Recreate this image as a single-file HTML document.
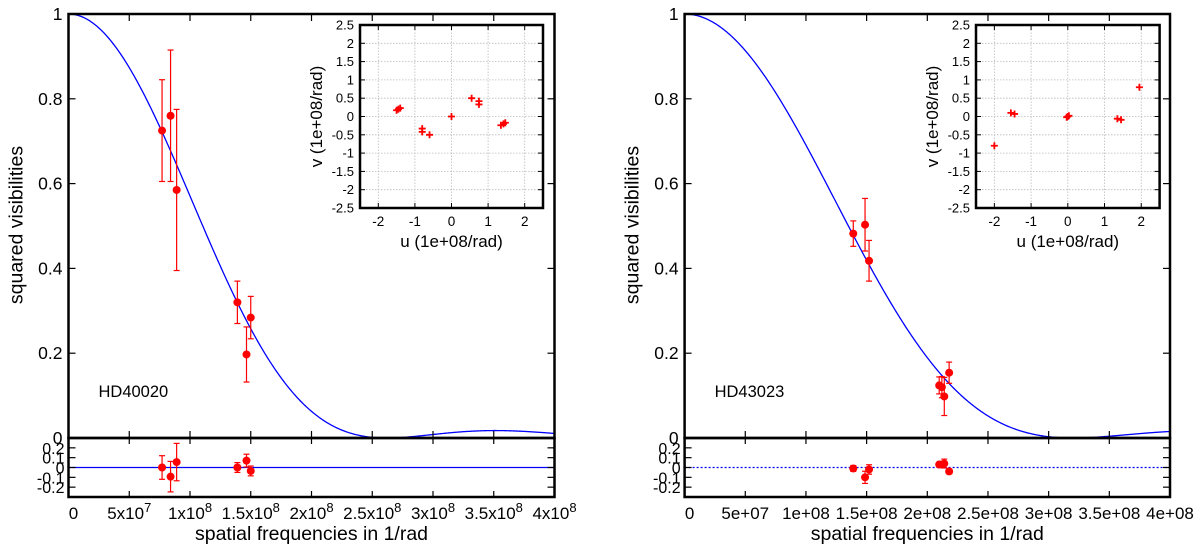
<!DOCTYPE html>
<html><head><meta charset="utf-8"><style>
html,body{margin:0;padding:0;background:#fff}
svg{display:block;font-family:"Liberation Sans",sans-serif}
</style></head><body>
<svg id="chart" width="1200" height="547" viewBox="0 0 1200 547" xmlns="http://www.w3.org/2000/svg"></svg>
<script>
// ---- data ----
const leftFreq = [7.7e7, 8.4e7, 8.9e7, 1.39e8, 1.465e8, 1.5e8];
const leftV2 = [0.725, 0.76, 0.585, 0.32, 0.197, 0.284];
const leftErr = [0.12, 0.155, 0.19, 0.05, 0.065, 0.05];
const leftRes = [0.0, -0.093, 0.055, 0.0, 0.07, -0.035];
const leftZero = 2.62e8;
const leftU = [-1.5, -1.45, -1.4, -0.8, -0.8, -0.6, 0, 0.55, 0.75, 0.75, 1.35, 1.42, 1.47];
const leftVv = [0.17, 0.2, 0.23, -0.33, -0.42, -0.5, 0, 0.5, 0.42, 0.33, -0.24, -0.2, -0.17];

const rightFreq = [1.39e8, 1.487e8, 1.52e8, 2.098e8, 2.12e8, 2.14e8, 2.18e8];
const rightV2 = [0.482, 0.503, 0.418, 0.124, 0.12, 0.098, 0.154];
const rightErr = [0.03, 0.062, 0.048, 0.02, 0.025, 0.045, 0.025];
const rightRes = [-0.01, -0.1, -0.02, 0.03, 0.03, 0.04, -0.04];
const rightZero = 3.2e8;
const rightU = [-2, -1.55, -1.45, 0, 0.03, -0.03, 1.35, 1.45, 1.95];
const rightVv = [-0.8, 0.1, 0.07, 0, 0.02, -0.02, -0.06, -0.09, 0.8];

const mainYTicks = [0, 0.2, 0.4, 0.6, 0.8, 1];
const mainYLabels = ["0", "0.2", "0.4", "0.6", "0.8", "1"];
const resTicks = [0.2, 0.1, 0, -0.1, -0.2];
const resLabels = ["0.2", "0.1", "0", "-0.1", "-0.2"];
const xTicks = [0, 5e7, 1e8, 1.5e8, 2e8, 2.5e8, 3e8, 3.5e8, 4e8];
const leftXLabels = [["0",""],["5x10","7"],["1x10","8"],["1.5x10","8"],["2x10","8"],["2.5x10","8"],["3x10","8"],["3.5x10","8"],["4x10","8"]];
const rightXLabels = ["0","5e+07","1e+08","1.5e+08","2e+08","2.5e+08","3e+08","3.5e+08","4e+08"];
const insetVTicks = [-2.5,-2,-1.5,-1,-0.5,0,0.5,1,1.5,2,2.5];
const insetUTicks = [-2,-1,0,1,2];

const NS = "http://www.w3.org/2000/svg";
const svg = document.getElementById('chart');
function mk(tag, attrs, parent, txt){
  const e = document.createElementNS(NS, tag);
  for (const k in attrs) e.setAttribute(k, attrs[k]);
  if (txt !== undefined) e.textContent = txt;
  (parent || svg).appendChild(e);
  return e;
}
function J1(x){
  let s=0, term=x/2; s=term;
  for(let k=1;k<40;k++){ term *= -(x*x/4)/(k*(k+1)); s+=term; }
  return s;
}
function panel(o){
  const g = mk('g',{});
  
  
  const X0=o.x0, X1=o.x1, Y1=14, Y0=438, R0=438, R1=497, RZ=467.5;
  const sx = f => X0 + f/4e8*(X1-X0);
  const sy = v => Y0 - v*(Y0-Y1);
  const sr = r => RZ - r/0.3*(RZ-R0);
  const k = 3.8317/o.zero;
  let d="";
  for(let i=0;i<=500;i++){
    const f=i/500*4e8, x=k*f; const v = x===0?1:Math.pow(2*J1(x)/x,2);
    d += (i?"L":"M")+sx(f).toFixed(2)+","+sy(v).toFixed(2);
  }
  const c = mk('path',{d:d,fill:'none',stroke:'#0000ff','stroke-width':1.3},g);
   
  const zl = mk('line',{x1:X0,x2:X1,y1:RZ,y2:RZ,stroke:'#0000ff','stroke-width':1.3,'stroke-dasharray':o.dotted?'2,2':'none'},g);
   
  const fr = mk('rect',{x:X0,y:Y1,width:X1-X0,height:Y0-Y1,fill:'none',stroke:'#000','stroke-width':2.5},g);
   
  const rf = mk('rect',{x:X0,y:R0,width:X1-X0,height:R1-R0,fill:'none',stroke:'#000','stroke-width':2.5},g);
   
  mainYTicks.forEach((t,i)=>{
    const y=sy(t);
    mk('line',{x1:X0,x2:X0+7,y1:y,y2:y,stroke:'#000','stroke-width':1.2},g);
    mk('line',{x1:X1,x2:X1-7,y1:y,y2:y,stroke:'#000','stroke-width':1.2},g);
    const l=mk('text',{x:X0-6,y:y+6,'text-anchor':'end','font-size':17.5},g,mainYLabels[i]);
     
  });
  resTicks.forEach((t,i)=>{
    const y=sr(t);
    mk('line',{x1:X0,x2:X0+7,y1:y,y2:y,stroke:'#000','stroke-width':1.2},g);
    mk('line',{x1:X1,x2:X1-7,y1:y,y2:y,stroke:'#000','stroke-width':1.2},g);
    const l=mk('text',{x:X0-4,y:y+6,'text-anchor':'end','font-size':16},g,resLabels[i]);
     
  });
  xTicks.forEach((t,i)=>{
    const x=sx(t);
    mk('line',{x1:x,x2:x,y1:Y1,y2:Y1+7,stroke:'#000','stroke-width':1.2},g);
    mk('line',{x1:x,x2:x,y1:Y0,y2:Y0-7,stroke:'#000','stroke-width':1.2},g);
    mk('line',{x1:x,x2:x,y1:R0,y2:R0+6,stroke:'#000','stroke-width':1.2},g);
    mk('line',{x1:x,x2:x,y1:R1,y2:R1-6,stroke:'#000','stroke-width':1.2},g);
    let l;
    if(o.sup){
      const lab=leftXLabels[i];
      l=mk('text',{x:x+(i===0?5:0),y:R1+22,'text-anchor':'middle','font-size':17},g);
      mk('tspan',{},l,lab[0]);
      if(lab[1]) mk('tspan',{dy:-7,'font-size':13},l,lab[1]);
    } else {
      l=mk('text',{x:x+(i===0?5:0),y:R1+22,'text-anchor':'middle','font-size':17},g,rightXLabels[i]);
    }
     
  });
  o.freq.forEach((f,i)=>{
    const x=sx(f), y=sy(o.v2[i]), e=o.err[i];
    const pg = mk('g',{fill:'#ff0000',stroke:'#ff0000'},g);
     
    mk('line',{x1:x,x2:x,y1:sy(o.v2[i]+e),y2:sy(o.v2[i]-e),'stroke-width':1.2},pg);
    mk('line',{x1:x-3,x2:x+3,y1:sy(o.v2[i]+e),y2:sy(o.v2[i]+e),'stroke-width':1.2},pg);
    mk('line',{x1:x-3,x2:x+3,y1:sy(o.v2[i]-e),y2:sy(o.v2[i]-e),'stroke-width':1.2},pg);
    mk('circle',{cx:x,cy:y,r:4,stroke:'none'},pg);
    const ry=sr(o.res[i]);
    const rg = mk('g',{fill:'#ff0000',stroke:'#ff0000'},g);
     
    mk('line',{x1:x,x2:x,y1:sr(o.res[i]+e),y2:sr(o.res[i]-e),'stroke-width':1.2},rg);
    mk('line',{x1:x-3,x2:x+3,y1:sr(o.res[i]+e),y2:sr(o.res[i]+e),'stroke-width':1.2},rg);
    mk('line',{x1:x-3,x2:x+3,y1:sr(o.res[i]-e),y2:sr(o.res[i]-e),'stroke-width':1.2},rg);
    mk('circle',{cx:x,cy:ry,r:4,stroke:'none'},rg);
  });
  const st=mk('text',{x:X0+30,y:397,'font-size':16.5},g,o.star);
   
  const yl=mk('text',{x:0,y:0,'text-anchor':'middle','font-size':19.5,transform:`translate(${X0-46},225) rotate(-90)`},g,'squared visibilities');
   
  const xl=mk('text',{x:(X0+X1)/2,y:540,'text-anchor':'middle','font-size':19.5},g,'spatial frequencies in 1/rad');
   
  const ig = mk('g',{},g);
   
  const IX0=o.ix0, IX1=o.ix1, IY0=208, IY1=25;
  const ux = u => IX0 + (u+2.5)/5*(IX1-IX0);
  const vy = v => IY0 - (v+2.5)/5*(IY0-IY1);
  mk('rect',{x:IX0,y:IY1,width:IX1-IX0,height:IY0-IY1,fill:'#fff',stroke:'none'},ig);
  insetVTicks.forEach(t=>{
    const y=vy(t);
    if(Math.abs(t)<2.5) mk('line',{x1:IX0,x2:IX1,y1:y,y2:y,stroke:'#bbb','stroke-width':0.8,'stroke-dasharray':'1.5,1.5'},ig);
    mk('line',{x1:IX0,x2:IX0+5,y1:y,y2:y,stroke:'#000'},ig);
    mk('line',{x1:IX1,x2:IX1-5,y1:y,y2:y,stroke:'#000'},ig);
    const l=mk('text',{x:IX0-6,y:y+4.5,'text-anchor':'end','font-size':13},ig,String(t));
     
  });
  insetUTicks.forEach(t=>{
    const x=ux(t);
    mk('line',{x1:x,x2:x,y1:IY0,y2:IY1,stroke:'#bbb','stroke-width':0.8,'stroke-dasharray':'1.5,1.5'},ig);
    mk('line',{x1:x,x2:x,y1:IY0,y2:IY0-5,stroke:'#000'},ig);
    mk('line',{x1:x,x2:x,y1:IY1,y2:IY1+5,stroke:'#000'},ig);
    const l=mk('text',{x:x,y:IY0+18,'text-anchor':'middle','font-size':13.5},ig,String(t));
     
  });
  mk('rect',{x:IX0,y:IY1,width:IX1-IX0,height:IY0-IY1,fill:'none',stroke:'#000','stroke-width':2.5},ig);
  o.u.forEach((u,i)=>{
    const x=ux(u), y=vy(o.vv[i]);
    const p=mk('path',{d:`M${x-3.5},${y}H${x+3.5}M${x},${y-3.5}V${y+3.5}`,stroke:'#ff0000','stroke-width':1.8},ig);
     
  });
  const ul=mk('text',{x:(IX0+IX1)/2,y:247,'text-anchor':'middle','font-size':17},ig,'u (1e+08/rad)');
   
  const vl=mk('text',{x:0,y:0,'text-anchor':'middle','font-size':17,transform:`translate(${IX0-38},${(IY0+IY1)/2}) rotate(-90)`},ig,'v (1e+08/rad)');
   
}
panel({name:'panel-hd40020',x0:68.5,x1:554.5,freq:leftFreq,v2:leftV2,err:leftErr,res:leftRes,zero:leftZero,u:leftU,vv:leftVv,star:'HD40020',sup:true,dotted:false,ix0:360,ix1:543});
panel({name:'panel-hd43023',x0:684.6,x1:1170,freq:rightFreq,v2:rightV2,err:rightErr,res:rightRes,zero:rightZero,u:rightU,vv:rightVv,star:'HD43023',sup:false,dotted:true,ix0:976,ix1:1159.6});
</script>
</body></html>
